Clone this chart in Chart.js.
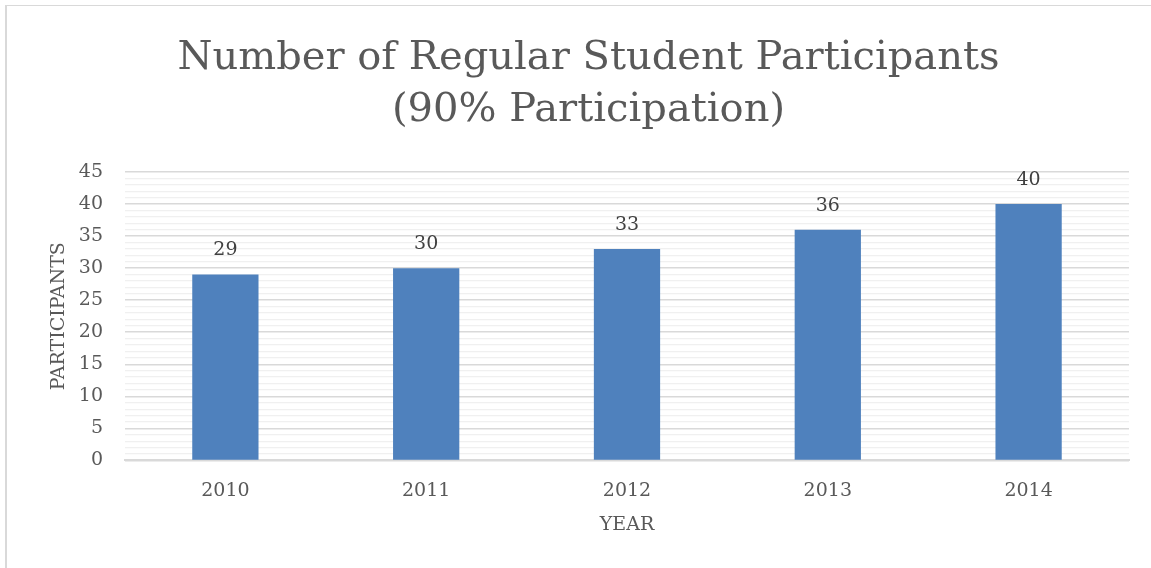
<!DOCTYPE html>
<html>
<head>
<meta charset="utf-8">
<script src="https://cdn.jsdelivr.net/npm/chart.js@4/dist/chart.umd.min.js"></script>
<style>
  html, body { margin: 0; padding: 0; background: #ffffff; }
  #wrap { position: relative; width: 1151px; height: 568px; overflow: hidden; }
  #frame { position: absolute; left: 5px; top: 5px; right: 0; bottom: 0;
           border-left: 2px solid #d9d9d9; border-top: 1px solid #d9d9d9; pointer-events: none; }
  canvas { position: absolute; left: 0; top: 0; }
</style>
</head>
<body>
<div id="wrap">
  <canvas id="c" width="1151" height="568"></canvas>
  <div id="frame"></div>
</div>
<script>
const categories = ['2010', '2011', '2012', '2013', '2014'];
const participants = [29, 30, 33, 36, 40];
const titleLines = ['Number of Regular Student Participants', '(90% Participation)'];
const yAxisTitle = 'PARTICIPANTS';
const xAxisTitle = 'YEAR';

const FONT = "'DejaVu Serif', 'Liberation Serif', serif";

const dataLabels = {
  id: 'dataLabels',
  afterDatasetsDraw(chart) {
    const ctx = chart.ctx;
    const meta = chart.getDatasetMeta(0);
    ctx.save();
    ctx.font = '19px ' + FONT;
    ctx.fillStyle = '#404040';
    ctx.textAlign = 'center';
    ctx.textBaseline = 'middle';
    meta.data.forEach((bar, i) => {
      ctx.fillText(String(chart.data.datasets[0].data[i]), bar.x, bar.y - 24);
    });
    ctx.restore();
  }
};

new Chart(document.getElementById('c'), {
  type: 'bar',
  data: {
    labels: categories,
    datasets: [{
      data: participants,
      backgroundColor: '#4f81bd',
      borderColor: '#4f81bd',
      borderWidth: 0,
      categoryPercentage: 1,
      barPercentage: 0.33
    }]
  },
  options: {
    responsive: false,
    animation: false,
    devicePixelRatio: 1,
    layout: { padding: { left: 48, right: 22, top: 0, bottom: 32 } },
    plugins: {
      legend: { display: false },
      tooltip: { enabled: false },
      title: {
        display: true,
        text: titleLines,
        color: '#595959',
        font: { family: FONT, size: 40, weight: 'normal', lineHeight: 1.3 },
        padding: { top: 33, bottom: 35 }
      }
    },
    scales: {
      x: {
        grid: { display: false, drawTicks: false },
        border: { display: true, color: '#d9d9d9', width: 2 },
        ticks: { color: '#595959', font: { family: FONT, size: 19 }, padding: 19 },
        title: { display: true, text: xAxisTitle, color: '#595959',
                 font: { family: FONT, size: 19 }, padding: { top: -8, bottom: 0 } }
      },
      y: {
        min: 0,
        max: 45,
        border: { display: false },
        grid: {
          drawTicks: false,
          color: (c) => (c.tick && c.tick.value % 5 === 0) ? '#d9d9d9' : '#f0f0f0',
          lineWidth: (c) => (c.tick && c.tick.value % 5 === 0) ? 1.5 : 1.2
        },
        ticks: {
          stepSize: 1,
          autoSkip: false,
          color: '#595959',
          font: { family: FONT, size: 19 },
          padding: 22,
          callback: (v) => (v % 5 === 0 ? String(v) : '')
        },
        title: { display: true, text: yAxisTitle, color: '#595959',
                 font: { family: FONT, size: 19 }, padding: { top: 0, bottom: -14 } }
      }
    }
  },
  plugins: [dataLabels]
});
</script>
</body>
</html>
